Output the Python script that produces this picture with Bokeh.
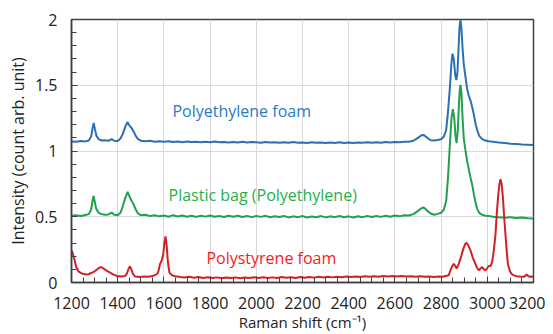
from bokeh.plotting import figure
from bokeh.models import FixedTicker, Label
from bokeh.embed import file_html
from bokeh.resources import INLINE

# ---- data ----
pe_foam_x = [1200,1220,1240,1260,1275,1285,1291,1296,1301,1308,1318,1330,1345,1360,1374,1385,1400,1412,1422,1432,1442,1450,1460,1470,1478,1488,1500,
             1520,1540,1560,1580,1600,1620,1640,1660,1680,1700,1720,1740,1760,1780,1800,1820,1840,1860,1880,1900,1920,1940,1960,1980,2000,
             2020,2040,2060,2080,2100,2120,2140,2160,2180,2200,2220,2240,2260,2280,2300,2320,2340,2360,2380,2400,2420,2440,2460,2480,2500,
             2520,2540,2560,2580,2600,2620,2640,2660,2680,2700,2715,2725,2740,2755,2770,2785,2800,2812,2822,2830,2838,2844,2849,2855,2861,
             2866,2871,2876,2880,2884,2888,2893,2898,2905,2913,2920,2927,2935,2942,2950,2956,2965,2978,2992,3006,3025,3050,3075,3100,3125,
             3150,3175,3200]
pe_foam_y = [1.072,1.070,1.076,1.073,1.080,1.110,1.170,1.213,1.170,1.115,1.090,1.080,1.082,1.078,1.090,1.078,1.076,1.095,1.130,1.180,1.220,1.195,1.175,1.145,1.115,1.090,1.078,
             1.074,1.078,1.071,1.075,1.070,1.074,1.069,1.073,1.067,1.072,1.068,1.071,1.066,1.070,1.067,1.072,1.066,1.069,1.064,1.068,1.065,1.070,1.064,1.068,1.066,
             1.063,1.068,1.064,1.067,1.062,1.066,1.063,1.068,1.062,1.065,1.061,1.066,1.062,1.065,1.060,1.064,1.061,1.066,1.061,1.064,1.060,1.065,1.062,1.066,1.062,
             1.067,1.063,1.068,1.064,1.069,1.066,1.071,1.070,1.078,1.100,1.120,1.122,1.100,1.082,1.080,1.083,1.090,1.110,1.160,1.300,1.480,1.650,1.740,1.700,1.580,
             1.540,1.600,1.800,1.950,2.000,1.930,1.780,1.660,1.570,1.470,1.420,1.385,1.330,1.275,1.200,1.160,1.115,1.090,1.080,1.074,1.070,1.064,1.060,1.056,1.054,
             1.050,1.048,1.046]

bag_x = [1200,1220,1240,1260,1275,1285,1290,1295,1300,1307,1318,1330,1345,1360,1374,1385,1400,1412,1422,1432,1443,1452,1462,1470,1478,1488,1500,
         1520,1540,1560,1580,1600,1620,1640,1660,1680,1700,1720,1740,1760,1780,1800,1820,1840,1860,1880,1900,1920,1940,1960,1980,2000,
         2020,2040,2060,2080,2100,2120,2140,2160,2180,2200,2220,2240,2260,2280,2300,2320,2340,2360,2380,2400,2420,2440,2460,2480,2500,
         2520,2540,2560,2580,2600,2620,2640,2660,2680,2700,2715,2725,2740,2755,2770,2785,2800,2812,2822,2830,2838,2845,2851,2857,2862,
         2867,2872,2877,2881,2884,2888,2893,2898,2905,2913,2920,2927,2935,2942,2950,2956,2965,2978,2992,3006,3025,3050,3075,3100,3125,
         3150,3175,3200]
bag_y = [0.508,0.512,0.505,0.514,0.520,0.555,0.610,0.659,0.620,0.560,0.530,0.520,0.515,0.518,0.532,0.515,0.512,0.530,0.580,0.640,0.689,0.650,0.615,0.590,0.555,0.525,0.512,
         0.515,0.505,0.512,0.503,0.510,0.500,0.512,0.502,0.509,0.500,0.508,0.499,0.507,0.501,0.510,0.500,0.506,0.498,0.507,0.500,0.508,0.498,0.505,0.497,0.506,
         0.499,0.507,0.496,0.504,0.498,0.506,0.495,0.503,0.497,0.505,0.494,0.502,0.496,0.505,0.495,0.503,0.497,0.506,0.496,0.503,0.495,0.504,0.497,0.505,0.498,
         0.506,0.499,0.507,0.500,0.509,0.503,0.512,0.510,0.520,0.545,0.565,0.571,0.545,0.525,0.515,0.522,0.530,0.555,0.620,0.800,1.050,1.250,1.318,1.250,1.120,
         1.060,1.150,1.350,1.470,1.502,1.440,1.250,1.100,1.010,0.920,0.860,0.800,0.740,0.670,0.600,0.560,0.530,0.515,0.508,0.505,0.500,0.496,0.493,0.497,0.490,
         0.494,0.488,0.486]

ps_foam_x = [1200,1205,1212,1220,1230,1245,1258,1270,1285,1300,1315,1328,1340,1352,1367,1380,1396,1415,1432,1440,1447,1453,1459,1466,1476,1495,1515,1533,
             1550,1565,1575,1583,1590,1597,1602,1607,1612,1617,1624,1635,1649,1670,1690,1710,1730,1750,1770,1790,1810,1830,1850,1870,1890,1910,1930,
             1950,1970,1990,2010,2030,2050,2070,2090,2110,2130,2150,2170,2190,2210,2230,2250,2270,2290,2310,2330,2350,2370,2390,2410,2430,2450,2470,
             2490,2510,2530,2550,2570,2590,2610,2630,2650,2670,2690,2710,2730,2750,2770,2790,2805,2820,2833,2842,2848,2855,2861,2867,2876,2884,2895,
             2905,2910,2918,2927,2937,2948,2956,2963,2970,2978,2985,2992,3000,3006,3014,3021,3028,3035,3041,3047,3052,3057,3062,3067,3073,3079,3084,
             3089,3098,3108,3125,3140,3158,3165,3170,3176,3184,3192,3200]
ps_foam_y = [0.244,0.225,0.180,0.120,0.085,0.068,0.062,0.060,0.072,0.085,0.105,0.118,0.105,0.090,0.075,0.062,0.050,0.045,0.050,0.068,0.105,0.123,0.100,0.065,0.045,0.042,0.045,0.043,
             0.050,0.058,0.075,0.140,0.165,0.210,0.300,0.350,0.280,0.160,0.075,0.055,0.048,0.042,0.038,0.044,0.036,0.041,0.035,0.040,0.034,0.039,0.033,0.038,0.034,0.039,0.033,
             0.038,0.034,0.040,0.035,0.040,0.034,0.039,0.035,0.041,0.036,0.040,0.035,0.041,0.036,0.042,0.037,0.043,0.038,0.043,0.039,0.044,0.040,0.045,0.041,0.046,0.042,0.047,
             0.043,0.048,0.044,0.049,0.045,0.050,0.046,0.049,0.045,0.048,0.044,0.047,0.043,0.046,0.042,0.045,0.044,0.050,0.055,0.100,0.125,0.143,0.125,0.106,0.140,0.181,0.250,
             0.295,0.302,0.280,0.244,0.190,0.143,0.110,0.093,0.105,0.118,0.100,0.093,0.110,0.126,0.125,0.156,0.240,0.357,0.520,0.659,0.740,0.785,0.750,0.659,0.500,0.357,0.240,
             0.143,0.085,0.060,0.048,0.045,0.043,0.052,0.062,0.050,0.043,0.045,0.044]

x_ticks = [1200, 1400, 1600, 1800, 2000, 2200, 2400, 2600, 2800, 3000, 3200]
y_ticks = [0, 0.5, 1, 1.5, 2]
y_tick_labels = ["0", "0.5", "1", "1.5", "2"]
series_names = ["Polyethylene foam", "Plastic bag (Polyethylene)", "Polystyrene foam"]

FONT = "Open Sans"
LINE_BLUE, LINE_GREEN, LINE_RED = "#2b70b4", "#1fa14e", "#cf2228"
TXT_BLUE, TXT_GREEN, TXT_RED = "#2a7ac8", "#22b14c", "#f41c1c"

p = figure(width=545, height=334, x_range=(1200, 3200), y_range=(0, 2),
           output_backend="svg", toolbar_location=None,
           min_border_left=71, min_border_right=12, min_border_top=19, min_border_bottom=50)

p.line(pe_foam_x, pe_foam_y, line_color=LINE_BLUE, line_width=2)
p.line(bag_x, bag_y, line_color=LINE_GREEN, line_width=2)
p.line(ps_foam_x, ps_foam_y, line_color=LINE_RED, line_width=2)

# axes
p.xaxis.ticker = FixedTicker(ticks=x_ticks, minor_ticks=list(range(1200, 3201, 50)))
p.yaxis.ticker = FixedTicker(ticks=y_ticks, minor_ticks=[i / 10 for i in range(0, 21)])
p.yaxis.major_label_overrides = {t: l for t, l in zip(y_ticks, y_tick_labels)}

for ax in (p.xaxis[0], p.yaxis[0]):
    ax.axis_line_color = "#404040"
    ax.axis_line_width = 1.5
    ax.major_tick_in = 6
    ax.major_tick_out = 0
    ax.minor_tick_in = 5
    ax.minor_tick_out = 0
    ax.major_tick_line_color = "#404040"
    ax.minor_tick_line_color = "#404040"
    ax.major_label_text_font = FONT
    ax.major_label_text_font_size = "16px"
    ax.major_label_text_color = "#222222"
    ax.axis_label_text_font = FONT
    ax.axis_label_text_font_style = "normal"
    ax.axis_label_text_color = "#222222"

p.xaxis.axis_label = "Raman shift (cm\u207b\u00b9)"
p.yaxis.axis_label = "Intensity (count arb. unit)"
p.xaxis.axis_label_text_font_size = "15px"
p.yaxis.axis_label_text_font_size = "16px"
p.xaxis.major_label_standoff = 14
p.xaxis.axis_label_standoff = 0
p.yaxis.major_label_standoff = 14
p.yaxis.axis_label_standoff = 3

p.outline_line_color = "#404040"
p.outline_line_width = 1.5
p.xgrid.grid_line_color = "#d9d9d9"
p.ygrid.grid_line_color = "#d9d9d9"
p.background_fill_color = "white"
p.border_fill_color = "white"

for name, x, y, c in [(series_names[0], 1637, 1.306, TXT_BLUE),
                      (series_names[1], 1620, 0.664, TXT_GREEN),
                      (series_names[2], 1784, 0.190, TXT_RED)]:
    p.add_layout(Label(x=x, y=y, text=name, text_color=c, text_font=FONT,
                       text_font_size="16px", text_baseline="middle", text_align="left"))

open("out.html", "w").write(file_html(p, INLINE))
